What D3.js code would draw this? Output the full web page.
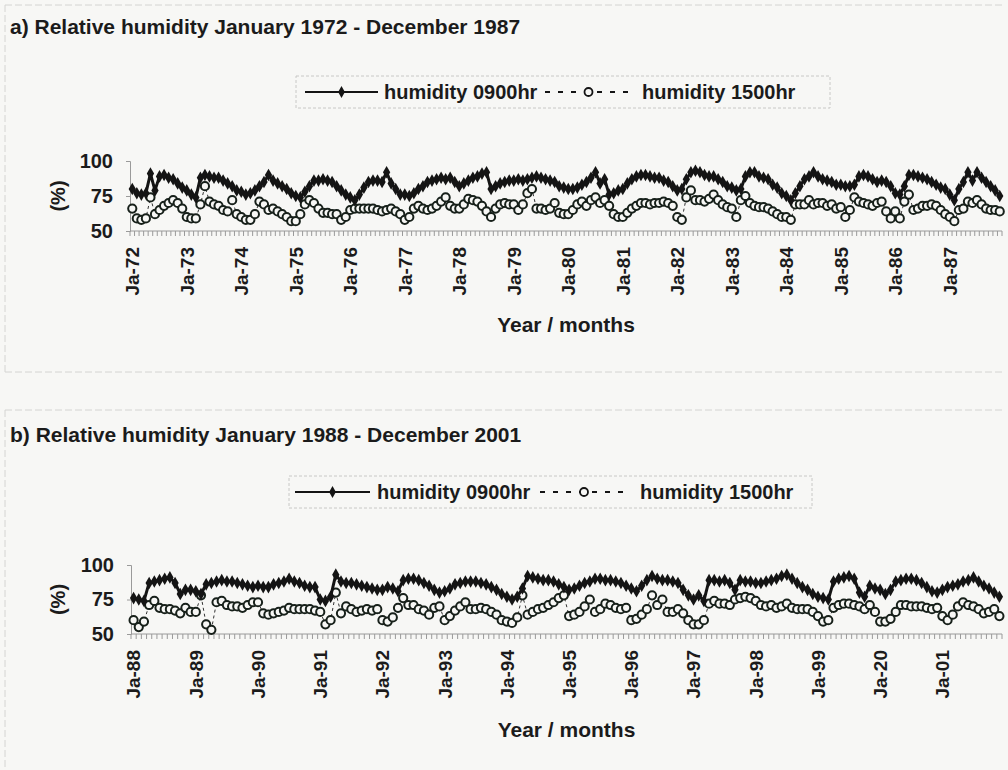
<!DOCTYPE html>
<html>
<head>
<meta charset="utf-8">
<script src="https://cdn.jsdelivr.net/npm/d3@7/dist/d3.min.js"></script>
<style>
  body { margin: 0; background: #f7f7f5; }
  svg { display: block; }
  text { font-family: "Liberation Sans", Arial, sans-serif; font-weight: bold; fill: #1b1b1b; }
</style>
</head>
<body>
<svg id="chart" width="1008" height="770"></svg>
<script>
// ---- Panel a: monthly relative humidity (%), January 1972 - December 1987 ----
const yearLabelsA = ["Ja-72","Ja-73","Ja-74","Ja-75","Ja-76","Ja-77","Ja-78","Ja-79",
                     "Ja-80","Ja-81","Ja-82","Ja-83","Ja-84","Ja-85","Ja-86","Ja-87"];
const hum0900A = [
  80,77,76,77,91,79,89,90,88,87,84,81,   // 1972
  79,76,74,88,90,89,88,88,86,84,82,79,   // 1973
  78,76,77,79,82,85,90,86,84,82,80,77,   // 1974
  75,74,78,82,86,86,87,86,85,82,79,76,   // 1975
  74,72,76,81,85,86,86,85,92,84,80,76,   // 1976
  76,75,77,80,82,85,86,87,88,87,88,85,   // 1977
  82,84,86,88,89,91,92,80,82,84,85,86,   // 1978
  86,87,86,87,88,89,88,87,86,85,82,81,   // 1979
  80,80,81,83,85,88,92,84,87,76,77,79,   // 1980
  80,84,87,89,90,90,89,88,88,86,85,82,   // 1981
  79,80,87,92,93,92,90,89,89,87,85,82,   // 1982
  81,79,80,89,92,92,89,88,87,83,81,77,   // 1983
  75,72,77,82,87,89,92,89,87,86,85,83,   // 1984
  83,82,82,83,89,90,89,87,85,86,85,82,   // 1985
  77,76,82,90,90,89,88,87,85,83,81,80,   // 1986
  76,72,80,85,92,86,92,88,85,82,79,75    // 1987
];
const hum1500A = [
  66,59,58,59,74,62,65,68,70,72,70,66,   // 1972
  60,59,59,69,82,71,69,68,65,64,72,62,   // 1973
  60,58,58,62,71,69,65,66,64,62,60,57,   // 1974
  57,62,69,72,70,66,63,63,62,62,58,60,   // 1975
  65,66,66,66,66,66,65,64,65,66,64,62,   // 1976
  58,60,66,68,66,65,66,68,71,74,68,66,   // 1977
  66,69,73,72,71,68,64,60,66,69,70,69,   // 1978
  69,65,69,77,80,66,66,65,66,70,63,62,   // 1979
  62,65,69,71,68,72,74,70,72,68,62,60,   // 1980
  60,63,66,68,70,70,69,70,70,71,70,68,   // 1981
  60,58,74,79,72,72,71,73,76,72,69,67,   // 1982
  66,60,72,75,70,68,67,67,66,64,62,60,   // 1983
  60,58,69,69,69,72,69,70,70,68,69,66,   // 1984
  67,60,65,74,71,70,69,68,70,71,64,59,   // 1985
  64,59,71,76,65,66,68,68,69,68,65,62,   // 1986
  60,57,65,66,71,70,72,69,66,65,65,64    // 1987
];

// ---- Panel b: monthly relative humidity (%), January 1988 - December 2001 ----
const yearLabelsB = ["Ja-88","Ja-89","Ja-90","Ja-91","Ja-92","Ja-93","Ja-94",
                     "Ja-95","Ja-96","Ja-97","Ja-98","Ja-99","Ja-20","Ja-01"];
const hum0900B = [
  76,75,74,87,88,89,90,91,87,79,82,82,   // 1988
  81,79,86,87,88,89,88,88,87,86,85,84,   // 1989
  85,84,84,86,87,88,90,88,87,85,84,84,   // 1990
  75,74,77,93,88,87,87,86,85,84,83,82,   // 1991
  82,84,83,81,89,90,90,89,87,85,82,80,   // 1992
  81,83,86,87,88,88,88,87,86,84,82,79,   // 1993
  77,75,77,83,92,91,90,89,89,88,86,84,   // 1994
  82,83,85,87,88,90,90,89,89,88,87,85,   // 1995
  83,81,85,89,92,90,89,89,88,87,82,78,   // 1996
  75,78,74,89,89,88,89,87,82,89,88,88,   // 1997
  87,87,88,89,90,92,93,90,87,84,82,79,   // 1998
  77,76,75,88,90,91,92,90,80,77,85,83,   // 1999
  82,79,82,88,89,90,90,89,87,84,81,80,   // 2000
  82,84,85,86,88,89,91,88,85,83,80,77    // 2001
];
const hum1500B = [
  60,55,59,71,74,69,68,68,67,65,69,66,   // 1988
  66,78,57,53,73,74,71,70,70,69,71,73,   // 1989
  73,65,64,65,66,67,69,68,68,68,68,67,   // 1990
  66,57,60,80,65,70,68,66,67,68,67,68,   // 1991
  60,59,62,69,76,71,71,68,67,64,69,70,   // 1992
  60,63,67,70,73,68,68,69,68,66,64,60,   // 1993
  59,58,62,78,64,66,68,69,71,73,76,78,   // 1994
  63,64,66,70,75,66,68,72,71,69,68,69,   // 1995
  60,61,64,68,78,71,75,66,66,68,65,60,   // 1996
  57,57,60,72,74,72,72,71,75,76,77,76,   // 1997
  74,71,70,71,69,70,72,69,68,68,68,66,   // 1998
  63,59,60,69,71,72,72,71,70,68,71,66,   // 1999
  59,59,61,66,71,71,70,70,70,69,68,69,   // 2000
  63,60,64,70,73,71,70,68,65,66,68,63    // 2001
];

const yTicks = [50, 75, 100];
const seriesNames = ["humidity 0900hr", "humidity 1500hr"];

const svg = d3.select("#chart");
const INK = "#141414";
const AXIS = "#9a9a9a";
const PAPER = "#f7f7f5";

// faint dashed frames around each panel
const frame = svg.append("g").attr("fill", "none").attr("stroke", "#d4d4d2")
  .attr("stroke-width", 1).attr("stroke-dasharray", "7,3");
frame.append("line").attr("x1", 5).attr("x2", 1004).attr("y1", 5).attr("y2", 5);
frame.append("line").attr("x1", 5).attr("x2", 5).attr("y1", 5).attr("y2", 372);
frame.append("line").attr("x1", 5).attr("x2", 1004).attr("y1", 372).attr("y2", 372);
frame.append("line").attr("x1", 5).attr("x2", 1004).attr("y1", 410).attr("y2", 410);
frame.append("line").attr("x1", 5).attr("x2", 5).attr("y1", 410).attr("y2", 770);

function drawPanel(p) {
  const g = svg.append("g");
  const n = p.am.length;

  const x = d3.scaleBand().domain(d3.range(n)).range([p.left, p.right]).padding(0);
  const cx = i => x(i) + x.bandwidth() / 2;
  const y = d3.scaleLinear().domain([50, 100]).range([p.bottom, p.top]);

  // title
  g.append("text").attr("x", 10).attr("y", p.titleY)
    .style("font-size", "21px").text(p.title);

  // legend
  const lg = g.append("g");
  lg.append("rect").attr("x", p.leg.x0).attr("y", p.leg.y0)
    .attr("width", p.leg.x1 - p.leg.x0).attr("height", p.leg.y1 - p.leg.y0)
    .attr("fill", "none").attr("stroke", "#c8c8c6").attr("stroke-dasharray", "3,2");
  const ly = (p.leg.y0 + p.leg.y1) / 2;
  lg.append("line").attr("x1", p.leg.s1[0]).attr("x2", p.leg.s1[1]).attr("y1", ly).attr("y2", ly)
    .attr("stroke", INK).attr("stroke-width", 2);
  lg.append("path").attr("d", d3.symbol(d3.symbolDiamond, 40)())
    .attr("transform", `translate(${(p.leg.s1[0] + p.leg.s1[1]) / 2},${ly})`).attr("fill", INK);
  lg.append("text").attr("x", p.leg.t1).attr("y", ly).attr("dy", "0.36em")
    .style("font-size", "20px").text(seriesNames[0]);
  lg.append("line").attr("x1", p.leg.s2[0]).attr("x2", p.leg.s2[1]).attr("y1", ly).attr("y2", ly)
    .attr("stroke", INK).attr("stroke-width", 2).attr("stroke-dasharray", "5,8");
  lg.append("circle").attr("cx", (p.leg.s2[0] + p.leg.s2[1]) / 2).attr("cy", ly).attr("r", 4)
    .attr("fill", PAPER).attr("stroke", INK).attr("stroke-width", 1.8);
  lg.append("text").attr("x", p.leg.t2).attr("y", ly).attr("dy", "0.36em")
    .style("font-size", "20px").text(seriesNames[1]);

  // y axis
  const ya = g.append("g").attr("transform", `translate(${p.left},0)`)
    .call(d3.axisLeft(y).tickValues(yTicks).tickSize(4).tickPadding(13));
  ya.select(".domain").attr("stroke", AXIS);
  ya.selectAll(".tick line").attr("stroke", AXIS);
  ya.selectAll("text").style("font-size", "20px").attr("fill", INK)
    .style("font-family", "'Liberation Sans', Arial, sans-serif").style("font-weight", "bold");

  g.append("text")
    .attr("transform", `translate(58,${(p.top + p.bottom) / 2}) rotate(-90)`)
    .attr("text-anchor", "middle").attr("dy", "0.35em")
    .style("font-size", "20px").text("(%)");

  // x axis: baseline, a small tick between every month, a label every January
  g.append("line").attr("x1", p.left).attr("x2", p.right)
    .attr("y1", p.bottom).attr("y2", p.bottom).attr("stroke", AXIS);
  g.append("g").selectAll("line").data(d3.range(n + 1)).join("line")
    .attr("x1", i => i < n ? x(i) : p.right).attr("x2", i => i < n ? x(i) : p.right)
    .attr("y1", p.bottom).attr("y2", p.bottom + 5)
    .attr("stroke", AXIS).attr("stroke-width", 1);
  g.append("g").selectAll("text").data(p.labels).join("text")
    .attr("transform", (d, k) => `translate(${cx(k * 12)},${p.bottom + 16}) rotate(-90)`)
    .attr("text-anchor", "end").attr("dy", "0.36em")
    .style("font-size", "19px").text(d => d);

  g.append("text").attr("x", (p.left + p.right) / 2).attr("y", p.xTitleY)
    .attr("text-anchor", "middle").style("font-size", "21px").text("Year / months");

  // 1500hr series: dashed line with open circles
  g.append("path").datum(p.pm)
    .attr("d", d3.line().x((d, i) => cx(i)).y(d => y(d)))
    .attr("fill", "none").attr("stroke", "#333").attr("stroke-width", 1)
    .attr("stroke-dasharray", "3,3");
  g.append("g").selectAll("circle").data(p.pm).join("circle")
    .attr("cx", (d, i) => cx(i)).attr("cy", d => y(d)).attr("r", 4.1)
    .attr("fill", PAPER).attr("stroke", "#17201a").attr("stroke-width", 2);

  // 0900hr series: heavy solid line with filled diamonds
  g.append("path").datum(p.am)
    .attr("d", d3.line().x((d, i) => cx(i)).y(d => y(d)))
    .attr("fill", "none").attr("stroke", INK).attr("stroke-width", 3)
    .attr("stroke-linejoin", "round");
  g.append("g").selectAll("path").data(p.am).join("path")
    .attr("d", d3.symbol(d3.symbolDiamond, 46)())
    .attr("transform", (d, i) => `translate(${cx(i)},${y(d)})`)
    .attr("fill", INK);
}

drawPanel({
  title: "a) Relative humidity January 1972 - December 1987",
  titleY: 34, am: hum0900A, pm: hum1500A, labels: yearLabelsA,
  left: 130, right: 1002, top: 161, bottom: 231, xTitleY: 332,
  leg: { x0: 296, x1: 830, y0: 76, y1: 108, s1: [305, 378], t1: 384, s2: [545, 632], t2: 642 }
});

drawPanel({
  title: "b) Relative humidity January 1988 - December 2001",
  titleY: 442, am: hum0900B, pm: hum1500B, labels: yearLabelsB,
  left: 131, right: 1002, top: 565, bottom: 634, xTitleY: 737,
  leg: { x0: 289, x1: 812, y0: 476, y1: 508, s1: [295, 370], t1: 377, s2: [540, 628], t2: 640 }
});
</script>
</body>
</html>
